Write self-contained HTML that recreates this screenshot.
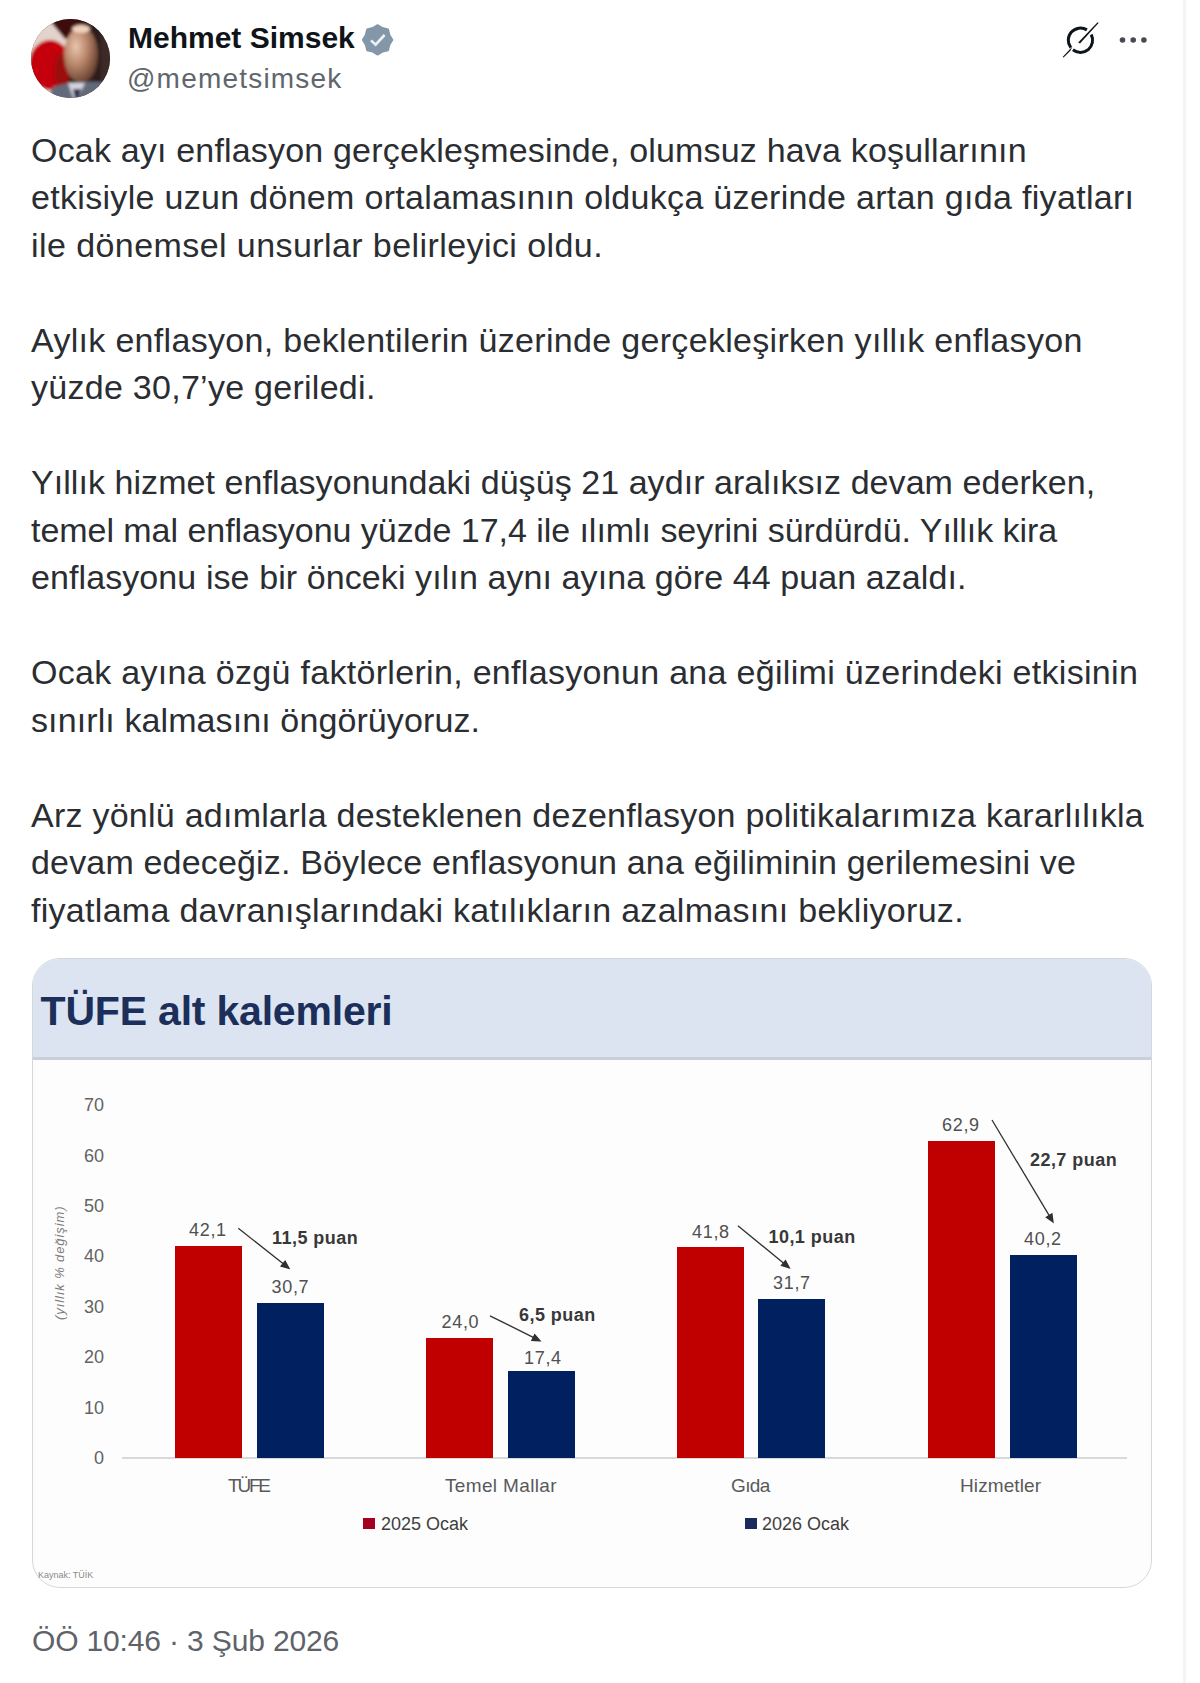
<!DOCTYPE html>
<html><head><meta charset="utf-8">
<style>
html,body{margin:0;padding:0;background:#fff;}
body{width:1200px;height:1683px;position:relative;overflow:hidden;font-family:"Liberation Sans",sans-serif;}
.vline{position:absolute;left:1183px;top:0;width:3px;height:1683px;background:#f4f4f7;}
.avatar{position:absolute;left:31px;top:19px;width:79px;height:79px;border-radius:50%;overflow:hidden;background:#4a3028;}
.name{position:absolute;left:128px;top:17.5px;font-weight:bold;font-size:30px;letter-spacing:0px;color:#0f1419;white-space:nowrap;line-height:40px;}
.handle{position:absolute;left:127px;top:59px;font-size:28px;letter-spacing:1.2px;color:#60666c;white-space:nowrap;line-height:40px;}
.txt{position:absolute;left:31px;font-size:34px;color:#2a2d31;white-space:nowrap;line-height:40px;}
.time{position:absolute;left:32px;top:1620.5px;font-size:30px;letter-spacing:-0.15px;color:#5e6369;white-space:nowrap;line-height:40px;}
.card{position:absolute;left:32px;top:958px;width:1120px;height:630px;border:1.5px solid #d4d8dc;border-radius:28px;overflow:hidden;background:#fdfdfd;box-sizing:border-box;}
.hdr{position:absolute;left:0;top:0;width:100%;height:101px;background:#dbe4f0;border-bottom:3px solid #c9cfd9;box-sizing:border-box;}
.title{position:absolute;left:7.6px;top:29px;font-weight:bold;font-size:41px;letter-spacing:-0.2px;color:#1b2f5a;white-space:nowrap;line-height:46px;}
.c{position:absolute;white-space:nowrap;line-height:20px;}
.yl{position:absolute;width:40px;left:64px;text-align:right;font-size:18px;color:#636363;line-height:20px;}
.bar{position:absolute;bottom:225px;width:67px;}
.r{background:#c00000;}
.b{background:#002060;}
.val{font-size:18px;letter-spacing:0.7px;color:#505050;}
.pu{font-size:18px;letter-spacing:0.45px;font-weight:bold;color:#383838;}
.cat{font-size:19px;color:#595959;}
.leg{font-size:18px;color:#404040;}
</style></head><body>
<div class="vline"></div>
<div class="avatar">
 <svg width="79" height="79" viewBox="0 0 79 79">
  <defs><filter id="bl" x="-20%" y="-20%" width="140%" height="140%"><feGaussianBlur stdDeviation="1.6"/></filter>
  <radialGradient id="fc" cx="0.35" cy="0.35" r="0.75"><stop offset="0" stop-color="#e8c6ae"/><stop offset="0.45" stop-color="#b8866a"/><stop offset="1" stop-color="#5a3426"/></radialGradient></defs>
  <g filter="url(#bl)">
  <rect x="-5" y="-5" width="90" height="90" fill="#2e1f1d"/>
  <rect x="-5" y="-5" width="42" height="90" fill="#e4d2cc"/>
  <path d="M14 -4 L56 -4 L50 18 L34 20 Z" fill="#3e0a0c"/>
  <ellipse cx="19" cy="46" rx="21" ry="25" fill="#c4040c"/>
  <ellipse cx="31" cy="52" rx="8" ry="18" fill="#9c0a0a"/>
  <ellipse cx="50" cy="36" rx="17" ry="28" fill="url(#fc)"/>
  <ellipse cx="50" cy="10" rx="9" ry="4" fill="#f0d2bc"/>
  <rect x="70" y="14" width="14" height="56" fill="#3a2a28"/>
  <path d="M14 84 L22 68 Q46 60 78 64 L84 84Z" fill="#626a7a"/>
  <path d="M37 64 L44 84 L54 64 Z" fill="#d4d4de"/>
  <path d="M42 70 L45 84 L50 70 Z" fill="#222840"/>
  </g>
 </svg>
</div>
<div class="name">Mehmet Simsek</div>
<svg style="position:absolute;left:0;top:0" width="420" height="70">
 <polygon points="377.6,24.8 382.6,27.8 388.2,29.2 389.6,34.8 392.6,39.8 389.6,44.8 388.2,50.4 382.6,51.8 377.6,54.8 372.6,51.8 367.0,50.4 365.6,44.8 362.6,39.8 365.6,34.8 367.0,29.2 372.6,27.8" fill="#8497a8" stroke="#8497a8" stroke-width="1.5" stroke-linejoin="round"/>
 <path d="M371 40.4 L375.6 44.6 L384.6 35" fill="none" stroke="#eef2f6" stroke-width="2.6"/>
</svg>
<div class="handle">@memetsimsek</div>
<svg style="position:absolute;left:1060px;top:18px" width="42" height="42" viewBox="1060 18 42 42">
 <path d="M1091.2 34.5 A12.2 12.2 0 0 1 1072.9 49.8" fill="none" stroke="#0f1419" stroke-width="3"/>
 <path d="M1070.8 47.7 A12.2 12.2 0 0 1 1086.9 29.9" fill="none" stroke="#0f1419" stroke-width="3"/>
 <path d="M1072.5 46.6 L1062.6 57 L1063.6 57.4 L1070.4 50.8Z" fill="#0f1419"/>
 <path d="M1078.2 42.4 L1097.6 22.2 L1098.6 23 L1080 43.6Z" fill="#0f1419"/>
</svg>
<svg style="position:absolute;left:1115px;top:33px" width="36" height="14">
 <circle cx="7.5" cy="7" r="2.8" fill="#474b50"/><circle cx="18.2" cy="7" r="2.8" fill="#474b50"/><circle cx="28.9" cy="7" r="2.8" fill="#474b50"/>
</svg>

<div class="txt" style="top:129.50px;letter-spacing:0.180px">Ocak ayı enflasyon gerçekleşmesinde, olumsuz hava koşullarının</div>
<div class="txt" style="top:177.00px;letter-spacing:0.310px">etkisiyle uzun dönem ortalamasının oldukça üzerinde artan gıda fiyatları</div>
<div class="txt" style="top:224.50px;letter-spacing:0.421px">ile dönemsel unsurlar belirleyici oldu.</div>
<div class="txt" style="top:319.50px;letter-spacing:0.314px">Aylık enflasyon, beklentilerin üzerinde gerçekleşirken yıllık enflasyon</div>
<div class="txt" style="top:367.00px;letter-spacing:0.273px">yüzde 30,7’ye geriledi.</div>
<div class="txt" style="top:462.00px;letter-spacing:0.059px">Yıllık hizmet enflasyonundaki düşüş 21 aydır aralıksız devam ederken,</div>
<div class="txt" style="top:509.50px;letter-spacing:-0.042px">temel mal enflasyonu yüzde 17,4 ile ılımlı seyrini sürdürdü. Yıllık kira</div>
<div class="txt" style="top:557.00px;letter-spacing:0.089px">enflasyonu ise bir önceki yılın aynı ayına göre 44 puan azaldı.</div>
<div class="txt" style="top:652.00px;letter-spacing:0.306px">Ocak ayına özgü faktörlerin, enflasyonun ana eğilimi üzerindeki etkisinin</div>
<div class="txt" style="top:699.50px;letter-spacing:0.103px">sınırlı kalmasını öngörüyoruz.</div>
<div class="txt" style="top:794.50px;letter-spacing:0.253px">Arz yönlü adımlarla desteklenen dezenflasyon politikalarımıza kararlılıkla</div>
<div class="txt" style="top:842.00px;letter-spacing:0.169px">devam edeceğiz. Böylece enflasyonun ana eğiliminin gerilemesini ve</div>
<div class="txt" style="top:889.50px;letter-spacing:0.290px">fiyatlama davranışlarındaki katılıkların azalmasını bekliyoruz.</div>

<div class="card">
  <div class="hdr"><div class="title">TÜFE alt kalemleri</div></div>
</div>

<!-- chart -->
<div class="yl" style="top:1095px">70</div>
<div class="yl" style="top:1145.6px">60</div>
<div class="yl" style="top:1196px">50</div>
<div class="yl" style="top:1246.4px">40</div>
<div class="yl" style="top:1296.8px">30</div>
<div class="yl" style="top:1347.2px">20</div>
<div class="yl" style="top:1397.6px">10</div>
<div class="yl" style="top:1448px">0</div>
<div class="c" style="left:4.5px;top:1255px;font-size:13px;letter-spacing:0.9px;font-style:italic;color:#7c7c7c;transform:rotate(-90deg);transform-origin:center;width:110px;text-align:center;">(yıllık % değişim)</div>
<div style="position:absolute;left:122px;top:1457px;width:1005px;height:1.5px;background:#d9d9d9"></div>

<div class="bar r" style="left:175px;top:1246px;height:212px"></div>
<div class="bar b" style="left:257px;top:1303px;height:155px"></div>
<div class="bar r" style="left:426px;top:1338px;height:120px"></div>
<div class="bar b" style="left:508px;top:1371px;height:87px"></div>
<div class="bar r" style="left:677px;top:1247px;height:211px"></div>
<div class="bar b" style="left:758px;top:1298.5px;height:159.5px"></div>
<div class="bar r" style="left:927.5px;top:1140.5px;height:317.5px"></div>
<div class="bar b" style="left:1009.5px;top:1255px;height:203px"></div>

<div class="c val" style="left:189px;top:1220px">42,1</div>
<div class="c val" style="left:271.5px;top:1277px">30,7</div>
<div class="c val" style="left:441.5px;top:1312px">24,0</div>
<div class="c val" style="left:524px;top:1348px">17,4</div>
<div class="c val" style="left:692px;top:1222px">41,8</div>
<div class="c val" style="left:773px;top:1272.5px">31,7</div>
<div class="c val" style="left:942px;top:1115px">62,9</div>
<div class="c val" style="left:1024px;top:1229px">40,2</div>

<div class="c pu" style="left:272px;top:1228px">11,5 puan</div>
<div class="c pu" style="left:519px;top:1305px">6,5 puan</div>
<div class="c pu" style="left:768.5px;top:1227px">10,1 puan</div>
<div class="c pu" style="left:1030px;top:1150px">22,7 puan</div>

<svg style="position:absolute;left:0;top:0" width="1200" height="1683">
 <g stroke="#303030" stroke-width="1.3" fill="#303030">
  <line x1="238.3" y1="1228.3" x2="283.9" y2="1264.3"/>
  <path d="M289.0 1268.3 L281.1 1266.2 L285.1 1261.1Z"/>
  <line x1="490" y1="1315.8" x2="534.2" y2="1337.9"/>
  <path d="M540.0 1340.8 L531.9 1340.3 L534.7 1334.6Z"/>
  <line x1="737.9" y1="1225.7" x2="784.3" y2="1263.7"/>
  <path d="M789.3 1267.8 L781.5 1265.5 L785.5 1260.6Z"/>
  <line x1="992" y1="1120" x2="1049.7" y2="1216.4"/>
  <path d="M1053.0 1222.0 L1046.4 1217.2 L1051.9 1213.9Z"/>
 </g>
</svg>

<div class="c cat" style="left:228px;top:1476px;letter-spacing:-2.2px">TÜFE</div>
<div class="c cat" style="left:445px;top:1476px;letter-spacing:0.35px">Temel Mallar</div>
<div class="c cat" style="left:731px;top:1476px;letter-spacing:-0.6px">Gıda</div>
<div class="c cat" style="left:960px;top:1476px;letter-spacing:0.1px">Hizmetler</div>

<div style="position:absolute;left:363px;top:1518px;width:12px;height:11px;background:#a5001e"></div>
<div class="c leg" style="left:381px;top:1514px">2025 Ocak</div>
<div style="position:absolute;left:745px;top:1518px;width:12px;height:11px;background:#1a2a5c"></div>
<div class="c leg" style="left:762px;top:1514px">2026 Ocak</div>
<div class="c" style="left:38px;top:1568px;font-size:9px;color:#8a8a8a;line-height:14px">Kaynak: TÜİK</div>

<div class="time">ÖÖ 10:46 · 3 Şub 2026</div>
</body></html>
